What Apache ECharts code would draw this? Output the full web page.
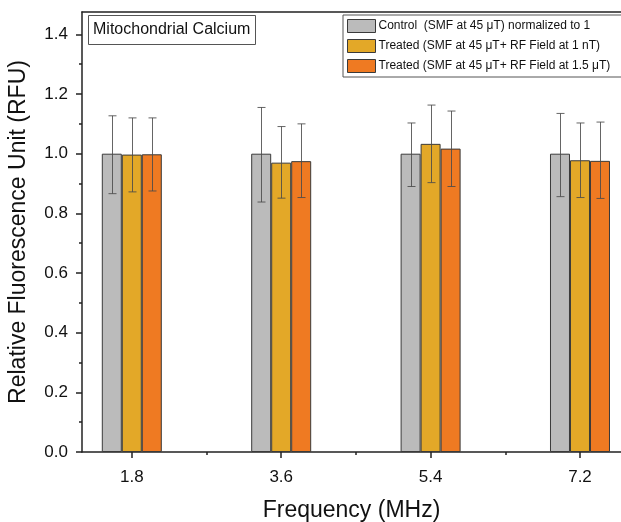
<!DOCTYPE html>
<html>
<head>
<meta charset="utf-8">
<script src="https://cdn.jsdelivr.net/npm/echarts@6/dist/echarts.min.js"></script>
<style>html,body{margin:0;padding:0;background:#fff}#c{width:621px;height:522px}</style>
</head>
<body>
<div id="c"></div>
<script>
var frequencies = [1.8, 3.6, 5.4, 7.2];
var minorXTicks = [2.7, 4.5, 6.3];
var yMajorTicks = [0, 0.2, 0.4, 0.6, 0.8, 1.0, 1.2, 1.4];
var yMinorTicks = [0.1, 0.3, 0.5, 0.7, 0.9, 1.1, 1.3];
var seriesNames = [
  'Control  (SMF at 45 μT) normalized to 1',
  'Treated (SMF at 45 μT+ RF Field at 1 nT)',
  'Treated (SMF at 45 μT+ RF Field at 1.5 μT)'
];
var controlMean = [1.0, 1.0, 1.0, 1.0];
var controlHigh = [1.127, 1.155, 1.103, 1.135];
var controlLow  = [0.866, 0.838, 0.890, 0.856];
var nTMean = [0.997, 0.970, 1.033, 0.978];
var nTHigh = [1.120, 1.091, 1.163, 1.103];
var nTLow  = [0.872, 0.851, 0.903, 0.853];
var uTMean = [0.998, 0.975, 1.017, 0.976];
var uTHigh = [1.120, 1.100, 1.143, 1.106];
var uTLow  = [0.875, 0.853, 0.890, 0.850];
var colors = ['#BBBBBB', '#E3A828', '#EF7A22'];

var font = 'Liberation Sans, Arial, sans-serif';
var chart = echarts.init(document.getElementById('c'));

function barData(means) {
  return frequencies.map(function (f, i) { return [f, means[i]]; });
}
function errData(low, high) {
  return frequencies.map(function (f, i) { return [f, low[i], high[i]]; });
}
function errSeries(low, high, offset) {
  return {
    type: 'custom',
    z: 5,
    silent: true,
    data: errData(low, high),
    renderItem: function (params, api) {
      var lo = api.coord([api.value(0), api.value(1)]);
      var hi = api.coord([api.value(0), api.value(2)]);
      var x = Math.round(lo[0] + offset) + 0.5;
      var cap = 4;
      var st = { stroke: '#4a4a4a', lineWidth: 1, opacity: 0.85 };
      return {
        type: 'group',
        children: [
          { type: 'line', shape: { x1: x, y1: hi[1], x2: x, y2: lo[1] }, style: st },
          { type: 'line', shape: { x1: x - cap, y1: hi[1], x2: x + cap, y2: hi[1] }, style: st },
          { type: 'line', shape: { x1: x - cap, y1: lo[1], x2: x + cap, y2: lo[1] }, style: st }
        ]
      };
    }
  };
}
function barSeries(name, means, color) {
  return {
    name: name,
    type: 'bar',
    xAxisIndex: 0,
    barWidth: 20,
    barGap: '0%',
    data: barData(means),
    itemStyle: { color: color, borderColor: '#3a3a3a', borderWidth: 1 }
  };
}
var axisColor = '#222';
var xMin = 1.2, xMax = 7.694;

var option = {
  animation: false,
  backgroundColor: '#fff',
  title: {
    text: 'Mitochondrial Calcium',
    left: 88, top: 15,
    padding: [7, 5, 7, 5],
    borderColor: '#555', borderWidth: 1,
    textStyle: { fontFamily: font, fontSize: 16, fontWeight: 'normal', color: '#111' }
  },
  legend: {
    orient: 'vertical',
    left: 343, top: 15,
    padding: [4, 40, 4, 4],
    itemWidth: 28, itemHeight: 13, itemGap: 6,
    borderColor: '#555', borderWidth: 1,
    icon: 'rect',
    data: seriesNames,
    textStyle: { fontFamily: font, fontSize: 12, color: '#111', padding: [0, 0, 0, -2] },
    itemStyle: { borderColor: '#3a3a3a', borderWidth: 1 }
  },
  grid: { left: 82, top: 12, right: 0, bottom: 70, show: false, outerBoundsMode: 'none', containLabel: false },
  xAxis: [{
    type: 'value', min: xMin, max: xMax,
    name: 'Frequency (MHz)', nameLocation: 'middle', nameGap: 47,
    nameTextStyle: { fontFamily: font, fontSize: 23, color: '#111' },
    axisLine: { show: true, onZero: false, lineStyle: { color: axisColor, width: 1.5 } },
    axisTick: { show: true, customValues: frequencies, length: 6, lineStyle: { color: axisColor, width: 1.5 } },
    axisLabel: { customValues: frequencies, margin: 17, fontFamily: font, fontSize: 17, color: '#111',
      formatter: function (v) { return v.toFixed(1); } },
    splitLine: { show: false }
  }, {
    type: 'value', min: xMin, max: xMax, position: 'bottom',
    axisLine: { show: false },
    axisTick: { show: true, customValues: minorXTicks, length: 3, lineStyle: { color: axisColor, width: 1.5 } },
    axisLabel: { show: false },
    splitLine: { show: false }
  }, {
    type: 'value', min: xMin, max: xMax, position: 'top',
    axisLine: { show: true, onZero: false, lineStyle: { color: axisColor, width: 1.5 } },
    axisTick: { show: false },
    axisLabel: { show: false },
    splitLine: { show: false }
  }],
  yAxis: [{
    type: 'value', min: 0, max: 1.475,
    name: 'Relative Fluorescence Unit (RFU)', nameLocation: 'middle', nameGap: 52,
    nameTextStyle: { fontFamily: font, fontSize: 23, color: '#111' },
    axisLine: { show: true, lineStyle: { color: axisColor, width: 1.5 } },
    axisTick: { show: true, customValues: yMajorTicks, length: 6, lineStyle: { color: axisColor, width: 1.5 } },
    axisLabel: { customValues: yMajorTicks, margin: 14, fontFamily: font, fontSize: 17, color: '#111',
      formatter: function (v) { return v.toFixed(1); } },
    splitLine: { show: false }
  }, {
    type: 'value', min: 0, max: 1.475, position: 'left',
    axisLine: { show: false },
    axisTick: { show: true, customValues: yMinorTicks, length: 3, lineStyle: { color: axisColor, width: 1.5 } },
    axisLabel: { show: false },
    splitLine: { show: false }
  }],
  series: [
    barSeries(seriesNames[0], controlMean, colors[0]),
    barSeries(seriesNames[1], nTMean, colors[1]),
    barSeries(seriesNames[2], uTMean, colors[2]),
    errSeries(controlLow, controlHigh, -20),
    errSeries(nTLow, nTHigh, 0),
    errSeries(uTLow, uTHigh, 20)
  ]
};
chart.setOption(option);
</script>
</body>
</html>
